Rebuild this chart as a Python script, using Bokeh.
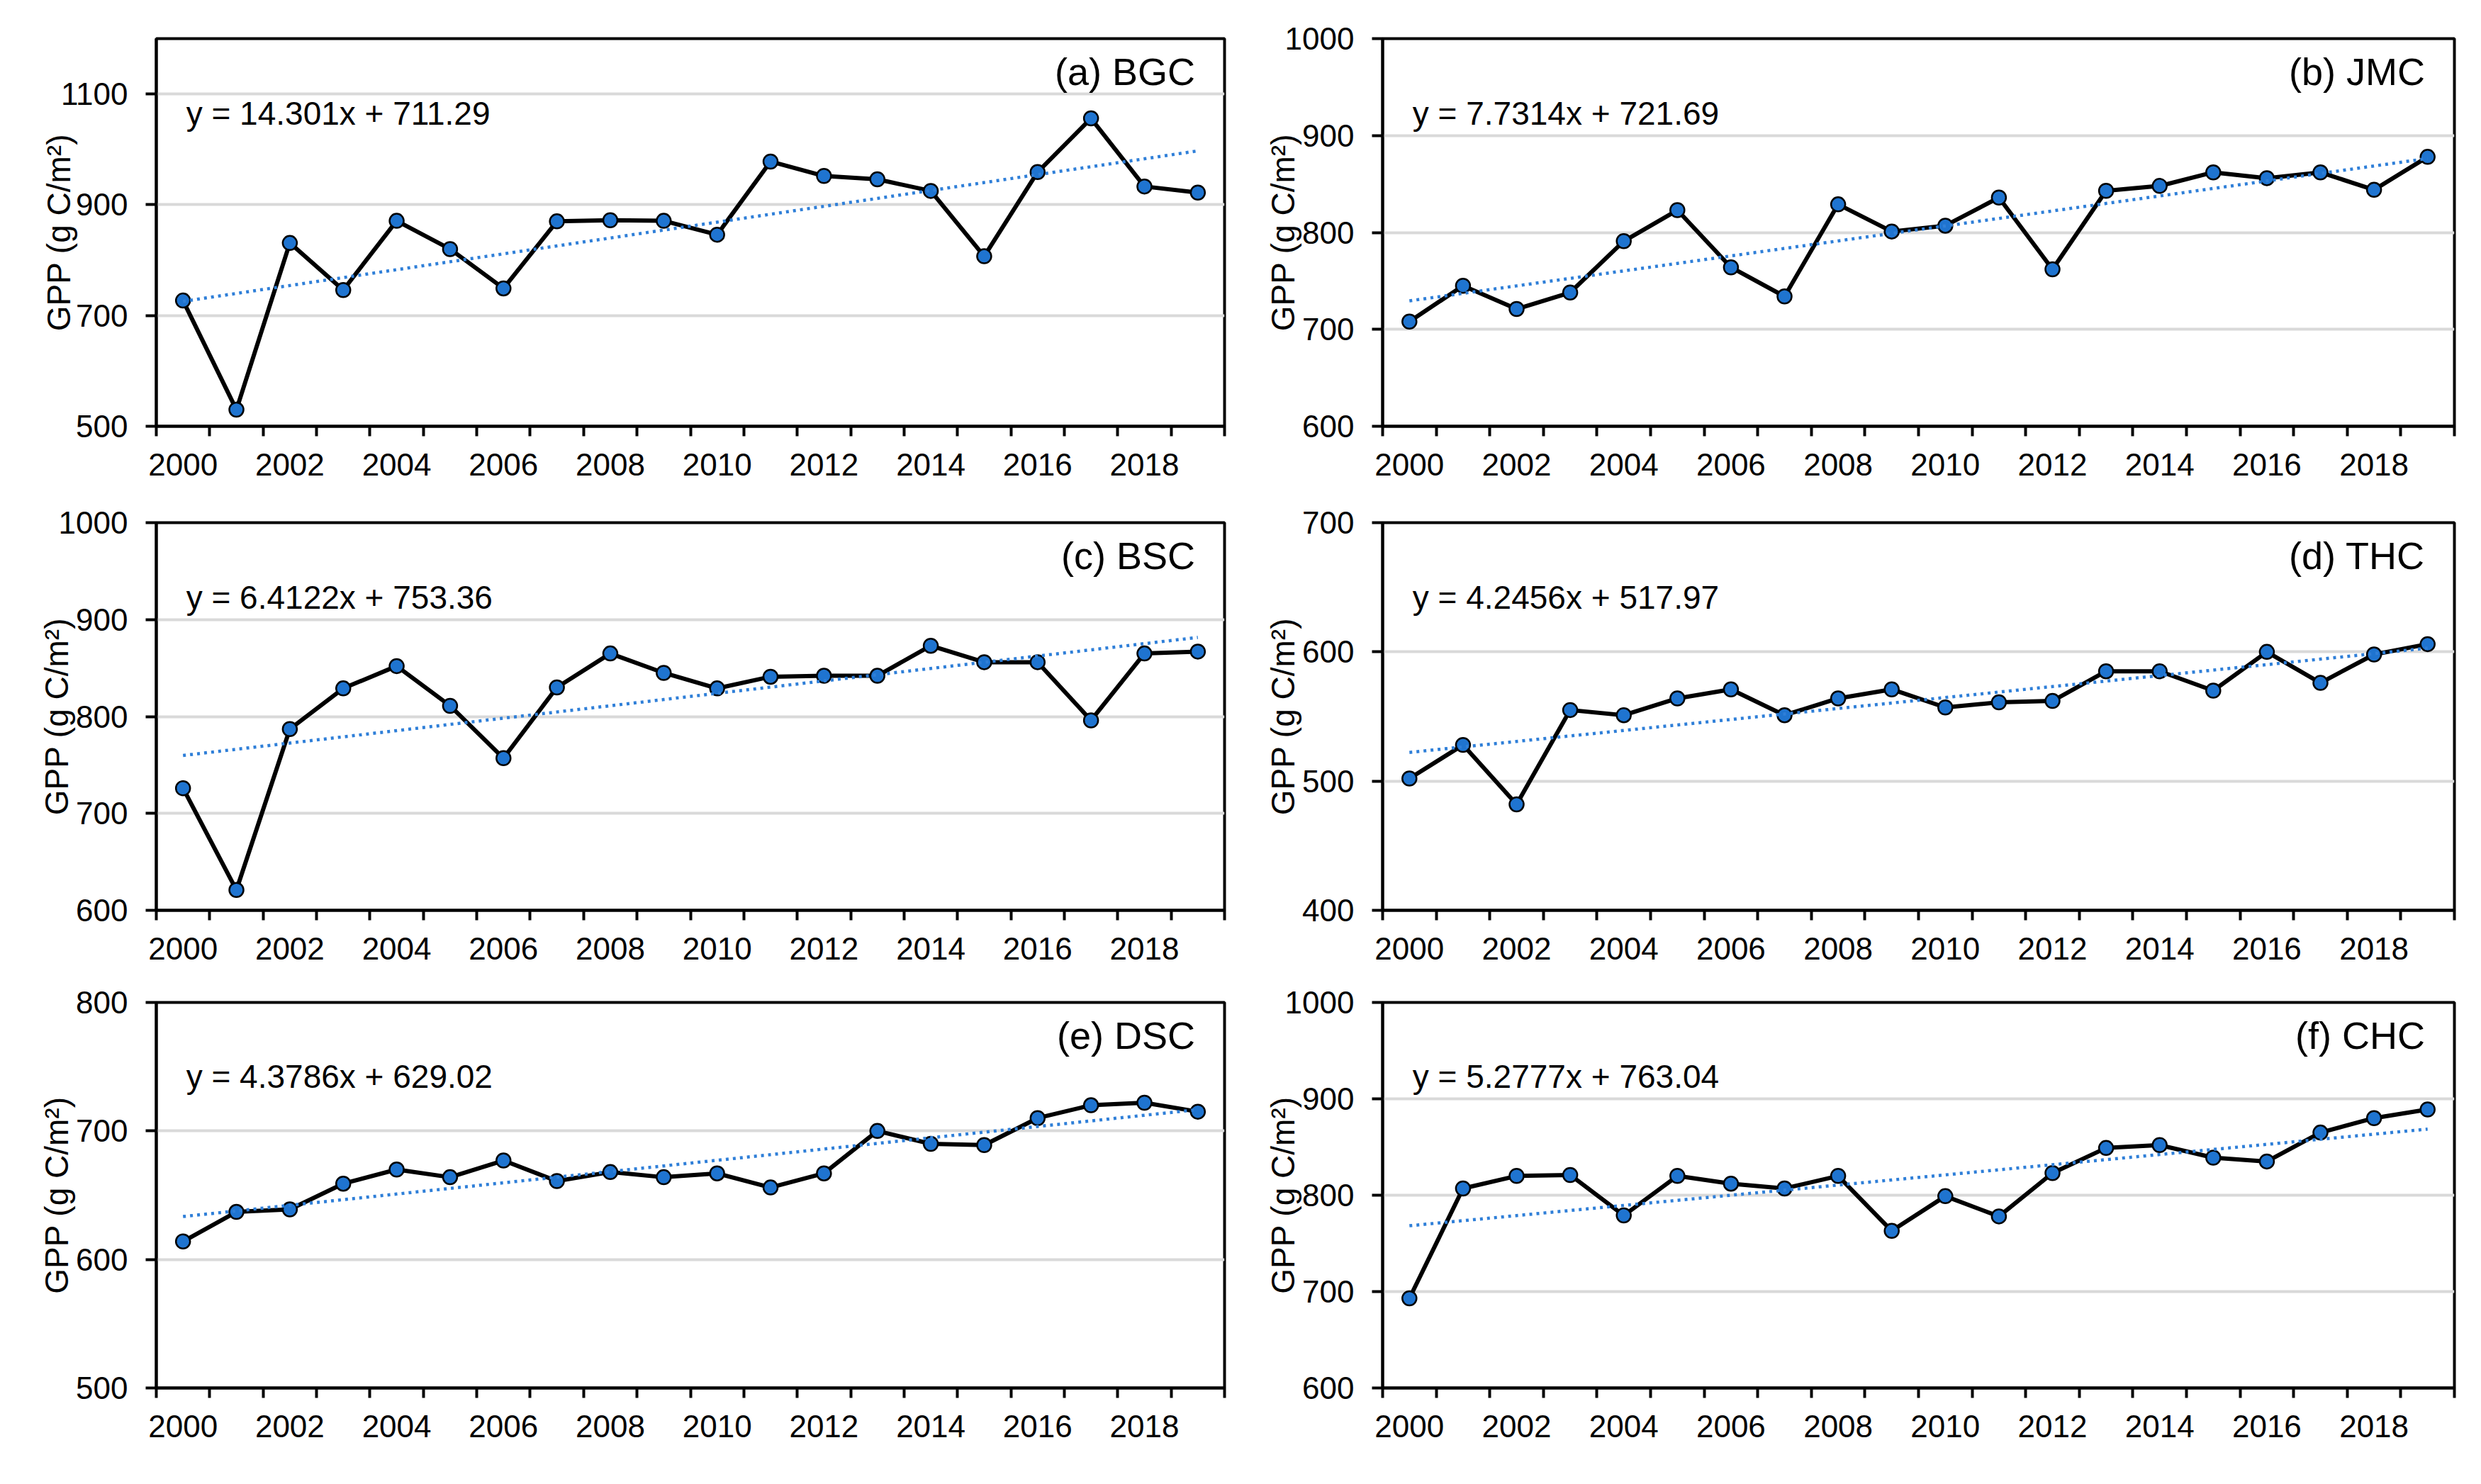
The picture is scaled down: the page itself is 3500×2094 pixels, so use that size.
from bokeh.plotting import figure
from bokeh.models import FixedTicker, Label
from bokeh.layouts import column, row
from bokeh.embed import file_html
from bokeh.resources import INLINE

# ---------------- data ----------------
years = list(range(2000, 2020))
panel_labels = ["(a) BGC", "(b) JMC", "(c) BSC", "(d) THC", "(e) DSC", "(f) CHC"]

gpp_bgc = [727, 530, 831, 746, 871, 820, 749, 870, 872, 871,
           846, 978, 952, 946, 925, 807, 959, 1056, 933, 922]
gpp_jmc = [708, 745, 721, 738, 791, 823, 764, 734, 829, 801,
           807, 836, 762, 843, 848, 862, 856, 862, 844, 878]
gpp_bsc = [726, 621, 787, 829, 852, 811, 757, 830, 865, 845,
           829, 841, 842, 842, 873, 856, 856, 796, 865, 867]
gpp_thc = [502, 528, 482, 555, 551, 564, 571, 551, 564, 571,
           557, 561, 562, 585, 585, 570, 600, 576, 598, 606]
gpp_dsc = [614, 637, 639, 659, 670, 664, 677, 661, 668, 664,
           667, 656, 667, 700, 690, 689, 710, 720, 722, 715]
gpp_chc = [693, 807, 820, 821, 779, 820, 812, 807, 820, 763,
           799, 778, 823, 849, 852, 839, 835, 865, 880, 889]

slopes = [14.301, 7.7314, 6.4122, 4.2456, 4.3786, 5.2777]
intercepts = [711.29, 721.69, 753.36, 517.97, 629.02, 763.04]

y_ranges = [(500, 1200), (600, 1000), (600, 1000), (400, 700), (500, 800), (600, 1000)]
y_ticks = [[500, 700, 900, 1100], [600, 700, 800, 900, 1000], [600, 700, 800, 900, 1000],
           [400, 500, 600, 700], [500, 600, 700, 800], [600, 700, 800, 900, 1000]]
x_tick_labels = list(range(2000, 2019, 2))

series = [gpp_bgc, gpp_jmc, gpp_bsc, gpp_thc, gpp_dsc, gpp_chc]

# ---------------- style ----------------
FONT = "Liberation Sans"
MARKER_BLUE = "#1f74d0"
TREND_BLUE = "#2f7fd8"
GRID_GREY = "#d9d9d9"

row_heights = [692, 678, 708]
row_top = [54, 45, 44]
row_bottom = [91, 86, 120]


def make_panel(i):
    r, c = divmod(i, 2)
    left = c == 0
    ymin, ymax = y_ranges[i]
    p = figure(width=1742, height=row_heights[r],
               x_range=(1999.5, 2019.5), y_range=(ymin, ymax),
               output_backend="svg", toolbar_location=None,
               min_border_left=220 if left else 208,
               min_border_right=15 if left else 22,
               min_border_top=row_top[r], min_border_bottom=row_bottom[r])
    p.background_fill_color = "white"
    p.border_fill_color = "white"
    p.outline_line_color = "black"
    p.outline_line_width = 4

    # grids
    p.xgrid.visible = False
    p.ygrid.ticker = FixedTicker(ticks=y_ticks[i])
    p.ygrid.grid_line_color = GRID_GREY
    p.ygrid.grid_line_width = 4

    # x axis: category-like, tick marks at boundaries, labels every 2 years
    xa = p.xaxis[0]
    xa.ticker = FixedTicker(ticks=x_tick_labels,
                            minor_ticks=[y - 0.5 for y in years] + [years[-1] + 0.5])
    xa.major_tick_line_color = None
    xa.minor_tick_line_color = "black"
    xa.minor_tick_line_width = 4
    xa.minor_tick_out = 14
    xa.minor_tick_in = 0
    xa.axis_line_color = "black"
    xa.axis_line_width = 4
    xa.major_label_text_font = FONT
    xa.major_label_text_font_size = "44px"
    xa.major_label_text_color = "black"
    xa.major_label_standoff = 24

    # y axis
    ya = p.yaxis[0]
    ya.ticker = FixedTicker(ticks=y_ticks[i])
    ya.minor_tick_line_color = None
    ya.major_tick_line_color = "black"
    ya.major_tick_line_width = 4
    ya.major_tick_out = 15
    ya.major_tick_in = 0
    ya.axis_line_color = "black"
    ya.axis_line_width = 4
    ya.major_label_text_font = FONT
    ya.major_label_text_font_size = "44px"
    ya.major_label_text_color = "black"
    ya.major_label_standoff = 25
    ya.axis_label = "GPP (g C/m\u00b2)"
    ya.axis_label_text_font = FONT
    ya.axis_label_text_font_size = "46px"
    ya.axis_label_text_font_style = "normal"
    ya.axis_label_text_color = "black"
    ya.axis_label_standoff = -26 if max(y_ticks[i]) >= 1000 else -2

    vals = series[i]
    trend = [slopes[i] * (k + 1) + intercepts[i] for k in range(len(years))]

    p.line(years, vals, line_color="black", line_width=6, line_join="round")
    p.scatter(years, vals, size=20, fill_color=MARKER_BLUE,
              line_color="black", line_width=2.5)
    p.line(years, trend, line_color=TREND_BLUE, line_width=4.5, line_dash="4 6")

    span = ymax - ymin
    eq = f"y = {slopes[i]}x + {intercepts[i]}"
    p.add_layout(Label(x=1999.5 + 0.56, y=ymax - 0.192 * span, text=eq,
                       text_font=FONT, text_font_size="46px",
                       text_color="black", text_align="left",
                       text_baseline="middle"))
    p.add_layout(Label(x=2019.5 - 0.55, y=ymax - 0.085 * span,
                       text=panel_labels[i],
                       text_font=FONT, text_font_size="54px",
                       text_color="black", text_align="right",
                       text_baseline="middle"))
    return p


figs = [make_panel(i) for i in range(6)]
layout = column(row(figs[0], figs[1]), row(figs[2], figs[3]), row(figs[4], figs[5]))

open("out.html", "w").write(file_html(layout, INLINE))
